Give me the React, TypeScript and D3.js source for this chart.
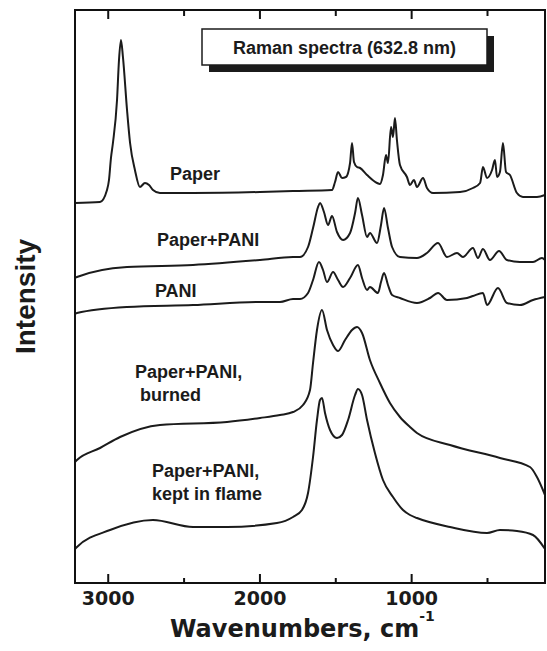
import React, { useEffect, useRef } from "react";
import * as d3 from "d3";

// wavenumber (cm-1), intensity (arb. units, offsets already included)
const paper: [number, number][] = [
  [3219, 380], [3054, 381], [3008, 393], [2995, 403], [2982, 425], [2969, 440],
  [2942, 483], [2929, 523], [2916, 543], [2903, 526], [2876, 473], [2856, 440],
  [2824, 413], [2791, 396], [2758, 400], [2731, 398], [2705, 393], [2659, 390],
  [2441, 390], [1999, 391], [1782, 392], [1525, 393], [1505, 401], [1485, 411],
  [1459, 405], [1433, 406], [1406, 420], [1393, 440], [1380, 421], [1360, 416],
  [1340, 415], [1294, 408], [1228, 400], [1209, 399], [1189, 408], [1169, 428],
  [1156, 420], [1136, 456], [1123, 446], [1110, 465], [1097, 443], [1077, 418],
  [1031, 406], [1011, 398], [985, 403], [965, 396], [925, 405], [899, 395],
  [859, 390], [681, 391], [596, 395], [549, 400], [530, 416], [503, 405],
  [470, 413], [451, 423], [437, 406], [418, 411], [398, 440], [378, 411],
  [352, 408], [306, 390], [266, 386], [174, 386], [121, 388],
];

const paperPani: [number, number][] = [
  [3219, 305], [3206, 306], [2876, 316], [2441, 318], [1999, 323], [1782, 326],
  [1736, 326], [1683, 336], [1650, 355], [1617, 376], [1604, 380], [1578, 371],
  [1551, 358], [1525, 367], [1492, 351], [1452, 343], [1406, 350], [1373, 370],
  [1354, 385], [1327, 368], [1294, 346], [1275, 350], [1228, 340], [1202, 358],
  [1182, 375], [1156, 355], [1129, 336], [1077, 326], [965, 325], [899, 330],
  [826, 340], [767, 326], [701, 330], [662, 326], [596, 335], [563, 325],
  [530, 334], [484, 323], [424, 332], [372, 323], [286, 321], [200, 321],
  [141, 325], [121, 323],
];

const pani: [number, number][] = [
  [3219, 269], [3206, 270], [2876, 276], [2441, 278], [1999, 281], [1868, 281],
  [1782, 284], [1736, 284], [1683, 290], [1650, 303], [1611, 321], [1584, 313],
  [1558, 301], [1518, 311], [1485, 303], [1452, 296], [1406, 305], [1354, 318],
  [1327, 305], [1294, 293], [1275, 296], [1222, 290], [1202, 301], [1182, 310],
  [1156, 298], [1129, 288], [1077, 285], [965, 280], [879, 285], [826, 290],
  [767, 283], [635, 285], [596, 287], [530, 290], [503, 278], [431, 295],
  [372, 280], [286, 278], [200, 283], [121, 286],
];

const burned: [number, number][] = [
  [3219, 121], [3206, 123], [3054, 135], [2922, 146], [2659, 158], [2217, 161],
  [1999, 165], [1868, 168], [1782, 171], [1716, 178], [1670, 193], [1650, 220],
  [1624, 253], [1591, 273], [1558, 253], [1518, 238], [1485, 232], [1439, 243],
  [1393, 253], [1360, 256], [1327, 250], [1275, 223], [1209, 200], [1143, 180],
  [1077, 166], [1011, 156], [965, 150], [747, 138], [418, 125], [220, 116],
  [174, 106], [121, 88],
];

const flame: [number, number][] = [
  [3219, 34], [3206, 36], [2988, 53], [2705, 63], [2441, 56], [2217, 56],
  [1888, 60], [1782, 66], [1723, 73], [1683, 90], [1650, 126], [1624, 163],
  [1604, 183], [1591, 185], [1571, 170], [1538, 153], [1492, 145], [1459, 148],
  [1419, 163], [1373, 188], [1354, 194], [1327, 188], [1294, 163], [1242, 130],
  [1189, 103], [1123, 86], [1057, 73], [1011, 68], [965, 65], [747, 56],
  [503, 50], [418, 53], [306, 52], [200, 48], [121, 34],
];

const seriesList = [paper, paperPani, pani, burned, flame];

// curve labels: text lines, wavenumber at left edge, intensity at baseline of first line
const curveLabels = [
  { lines: ["Paper"], w: 2593, v: 403 },
  { lines: ["Paper+PANI"], w: 2679, v: 337 },
  { lines: ["PANI"], w: 2692, v: 286 },
  { lines: ["Paper+PANI,", " burned"], w: 2824, v: 205 },
  { lines: ["Paper+PANI,", "kept in flame"], w: 2711, v: 106 },
];

const majorTicks = [3000, 2000, 1000];
const minorTicks = [2500, 1500, 500];
const xDomain = [3219, 121];
const yDomain = [0, 573];
const legendText = "Raman spectra (632.8 nm)";

const W = 547;
const H = 651;
const margin = { top: 10, right: 2, bottom: 68, left: 75 };

export default function App() {
  const ref = useRef<SVGSVGElement>(null);

  useEffect(() => {
    const svg = d3.select(ref.current);
    svg.selectAll("*").remove();

    const x = d3.scaleLinear().domain(xDomain).range([margin.left, W - margin.right]);
    const y = d3.scaleLinear().domain(yDomain).range([H - margin.bottom, margin.top]);
    const bottom = H - margin.bottom;
    const top = margin.top;

    const line = d3
      .line<[number, number]>()
      .x((d) => x(d[0]))
      .y((d) => y(d[1]))
      .curve(d3.curveMonotoneX);

    const g = svg.append("g");

    seriesList.forEach((s) => {
      g.append("path")
        .datum(s)
        .attr("fill", "none")
        .attr("stroke", "#1b1b1b")
        .attr("stroke-width", 2)
        .attr("stroke-linejoin", "round")
        .attr("d", line);
    });

    // frame
    g.append("rect")
      .attr("x", margin.left)
      .attr("y", top)
      .attr("width", W - margin.right - margin.left)
      .attr("height", bottom - top)
      .attr("fill", "none")
      .attr("stroke", "#111")
      .attr("stroke-width", 2);

    // ticks bottom & top
    majorTicks.forEach((t) => {
      g.append("line").attr("x1", x(t)).attr("x2", x(t)).attr("y1", bottom).attr("y2", bottom - 9).attr("stroke", "#111").attr("stroke-width", 2);
      g.append("line").attr("x1", x(t)).attr("x2", x(t)).attr("y1", top).attr("y2", top + 9).attr("stroke", "#111").attr("stroke-width", 2);
    });
    minorTicks.forEach((t) => {
      g.append("line").attr("x1", x(t)).attr("x2", x(t)).attr("y1", bottom).attr("y2", bottom - 5).attr("stroke", "#111").attr("stroke-width", 2);
      g.append("line").attr("x1", x(t)).attr("x2", x(t)).attr("y1", top).attr("y2", top + 6).attr("stroke", "#111").attr("stroke-width", 2);
    });

    g.selectAll(".tl")
      .data(majorTicks)
      .enter()
      .append("text")
      .attr("x", (d) => x(d))
      .attr("y", bottom + 22)
      .attr("text-anchor", "middle")
      .attr("font-family", "DejaVu Sans")
      .attr("font-weight", "bold")
      .attr("font-size", 19)
      .attr("fill", "#1b1b1b")
      .text((d) => d);

    // x title
    const xt = g
      .append("text")
      .attr("x", 170)
      .attr("y", bottom + 54)
      .attr("font-family", "DejaVu Sans")
      .attr("font-weight", "bold")
      .attr("font-size", 24)
      .attr("fill", "#1b1b1b");
    xt.append("tspan").text("Wavenumbers, cm");
    xt.append("tspan").attr("dy", -16).attr("font-size", 14).text("-1");

    // y title
    g.append("text")
      .attr("transform", `translate(35,${(top + bottom) / 2}) rotate(-90)`)
      .attr("text-anchor", "middle")
      .attr("font-family", "Liberation Sans, Arial, sans-serif")
      .attr("font-weight", "bold")
      .attr("font-size", 28)
      .attr("fill", "#1b1b1b")
      .text("Intensity");

    // legend box with shadow
    const bx = 202, by = 29, bw = 285, bh = 36;
    g.append("rect").attr("x", bx + 7).attr("y", by + 7).attr("width", bw).attr("height", bh).attr("fill", "#1b1b1b");
    g.append("rect").attr("x", bx).attr("y", by).attr("width", bw).attr("height", bh).attr("fill", "#fff").attr("stroke", "#1b1b1b").attr("stroke-width", 1.5);
    g.append("text")
      .attr("x", bx + bw / 2)
      .attr("y", by + 25)
      .attr("text-anchor", "middle")
      .attr("font-family", "Liberation Sans, Arial, sans-serif")
      .attr("font-weight", "bold")
      .attr("font-size", 18)
      .attr("fill", "#1b1b1b")
      .text(legendText);

    // curve labels
    curveLabels.forEach((l) => {
      const t = g
        .append("text")
        .attr("x", x(l.w))
        .attr("y", y(l.v))
        .attr("font-family", "Liberation Sans, Arial, sans-serif")
        .attr("font-weight", "bold")
        .attr("font-size", 18)
        .attr("fill", "#1b1b1b")
        .attr("xml:space", "preserve");
      l.lines.forEach((s, i) => {
        t.append("tspan")
          .attr("x", x(l.w))
          .attr("dy", i === 0 ? 0 : 23)
          .text(s);
      });
    });
  }, []);

  return (
    <div style={{ position: "absolute", left: 0, top: 0 }}>
      <svg ref={ref} width={W} height={H} style={{ display: "block", background: "#fff" }} />
    </div>
  );
}
